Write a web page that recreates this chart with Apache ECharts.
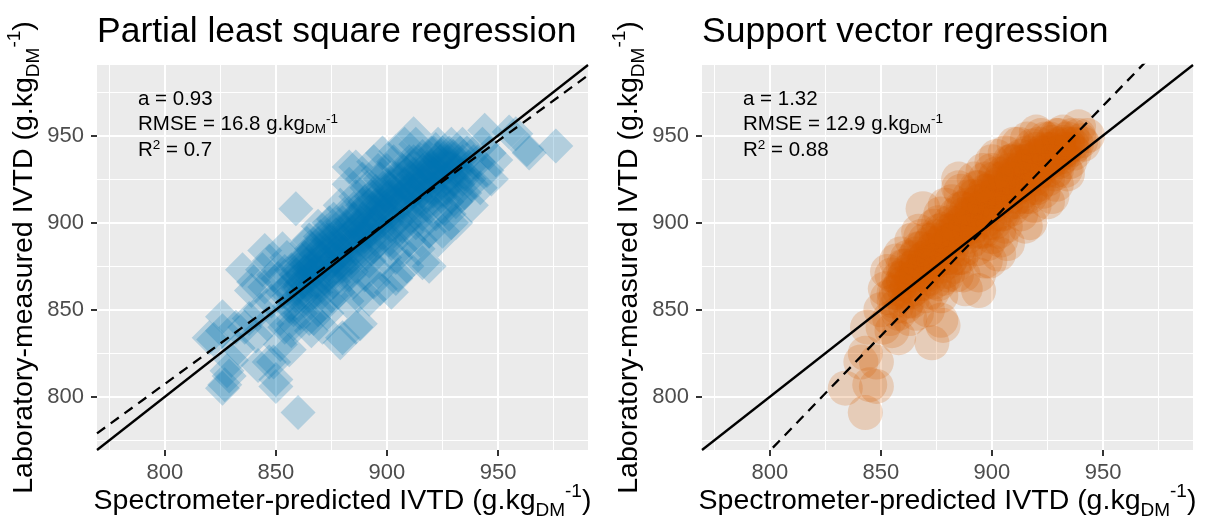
<!DOCTYPE html>
<html><head><meta charset="utf-8">
<script src="https://cdn.jsdelivr.net/npm/echarts@6/dist/echarts.min.js"></script>
<style>html,body{margin:0;padding:0;background:#fff}#c{width:1207px;height:518px}</style>
</head><body><div id="c"></div>
<script>
// ---------- data ----------
const panelTitles = ['Partial least square regression', 'Support vector regression'];
const tickValues = [800, 850, 900, 950];
const minorValues = [775, 825, 875, 925, 975];
const axisMin = 769.5, axisMax = 990.5;
const xTitle = 'Spectrometer-predicted IVTD (g.kg{sub|DM}{sup|-1})';
const yTitle = 'Laboratory-measured IVTD (g.kg{sub|DM}{sup|-1})';
const plsStats = ['a = 0.93', 'RMSE = 16.8 g.kg{sub|DM}{sup|-1}', 'R{sup|2} = 0.7'];
const svrStats = ['a = 1.32', 'RMSE = 12.9 g.kg{sub|DM}{sup|-1}', 'R{sup|2} = 0.88'];
const plsFit = [0.93, 63.4];   // slope, intercept
const svrFit = [1.32, -287];   // slope, intercept
// [predicted, measured]
const plsPoints = [
[820,834],[822,833],[826,846],[826,838],[827,807],[828,815],[830,821],[826,805],[829,812],[832,840],[835,873],[836,840],[833,828],
[839,861],[841,835],[842,818],[845,863],[845,884],[847,820],[849,820],[850,806],[850,810],[838,845],[843,850],[846,842],[848,855],[840,866],[844,873],[849,870],[847,878],
[852,845],[853,860],[854,872],[855,880],[856,827],[857,838],[858,850],[859,908],[860,791],[851,868],[853,885],[855,862],[857,873],[858,842],[859,858],[856,852],[852,830],[854,840],
[861,865],[862,878],[863,855],[864,888],[865,845],[866,870],[867,860],[868,882],[869,850],[870,875],[861,848],[863,872],[865,890],[866,838],[868,866],[870,892],[862,858],[864,876],[867,845],[869,898],[871,840],
[871,880],[872,868],[873,895],[874,855],[875,885],[876,902],[877,872],[878,860],[879,831],[880,890],[872,878],[874,900],[876,866],[878,884],[879,910],[873,848],[875,858],[877,893],[880,878],[880,834],
[881,905],[882,875],[883,922],[884,888],[885,866],[886,932],[887,898],[888,842],[889,880],[890,912],[881,890],[883,870],[884,900],[886,915],[887,858],[888,890],[889,925],[882,855],[885,908],[890,885],[890,870],
[891,920],[892,900],[893,885],[894,935],[895,910],[896,872],[897,925],[898,895],[899,880],[900,915],[891,895],[893,905],[894,866],[896,930],[897,890],[898,940],[899,905],[892,878],[895,890],[900,900],[900,930],
[901,920],[902,860],[903,895],[904,941],[905,910],[906,885],[907,930],[908,900],[909,918],[910,890],[901,905],[903,935],[904,880],[906,925],[907,898],[908,945],[909,875],[902,912],[905,870],[910,930],[910,908],
[911,920],[912,951],[913,900],[914,935],[915,890],[916,877],[917,925],[918,910],[919,875],[920,940],[911,905],[913,945],[914,885],[916,918],[917,900],[918,932],[919,895],[912,928],[915,912],[920,920],
[921,930],[922,905],[923,945],[924,915],[925,895],[926,935],[927,920],[928,905],[929,945],[930,925],[921,918],[923,890],[925,940],[927,912],[929,900],[924,928],[926,908],
[931,900],[932,930],[933,915],[935,917],[936,940],[937,925],[938,922],[939,935],[934,945],[931,912],[938,910],
[941,935],[943,945],[944,953],[945,930],[946,940],[949,936],[947,925],[942,920],
[955,952],[958,951],[963,942],[964,940],[976,944],
[866,885],[860,873],[883,932],[886,840],[892,856],[897,862],[904,868],
[856,858],[858,866],[860,862],[862,870],[864,864],[866,875],[868,872],[870,866],[872,884],[874,876],[876,888],[878,878],[880,884],[882,894],[884,880],[886,896],[888,900],[890,892],[892,910],[894,900],
[896,915],[898,905],[900,922],[902,898],[904,915],[906,910],[908,922],[910,915],[912,935],[914,920],[916,930],[918,925],[920,932],[922,925],[924,938],[926,925],[928,932],[930,938],[932,922],[934,935],
[859,870],[863,880],[867,885],[871,860],[875,872],[879,895],[883,885],[887,905],[891,882],[895,900],[899,915],[903,905],[907,912],[911,925],[915,920],[919,930],[923,922],[927,935],[931,930],[935,928],
[861,875],[865,858],[869,888],[873,875],[877,880],[881,870],[885,895],[889,910],[893,895],[897,908],[901,890],[905,925],[909,900],[913,915],[917,910],[921,940],[925,918],[929,915],[933,940],[937,932],
[868,878],[874,890],[880,900],[886,885],[892,890],[898,920],[904,900],[910,920],[916,905],[922,935],
[862,866],[865,872],[868,860],[871,885],[874,870],[877,888],[880,875],[883,898],[886,890],[889,902],[892,895],[895,918],[898,910],[901,915],[904,925],[907,918],[910,935],[913,928],[916,938],[919,920],[922,942],[925,930],[928,940],[931,935],[934,925],
[864,880],[867,875],[870,870],[873,890],[876,878],[879,885],[882,880],[885,902],[888,895],[891,910],[894,905],[897,900],[900,908],[903,918],[906,915],[909,928],[912,918],[915,935],[918,915],[921,928],[924,935],[927,925],[930,932],
[858,855],[866,865],[875,895],[884,872],[893,915],[902,888],[911,912],[920,925]
];
const svrPoints = [
[869,908],[843,791],[834,805],[845,807],[848,820],[841,820],[843,825],[844,840],[848,806],[853,857],[873,831],[877,844],[858,834],[878,841],[894,861],[899,878],[940,947],[939,955],[920,952],[885,920],[900,930],
[850,850],[852,862],[854,845],[855,870],[856,855],[857,878],[858,848],[859,865],[851,840],[853,872],[855,838],[857,860],[859,882],
[860,868],[861,852],[862,880],[863,860],[864,890],[865,872],[866,848],[867,885],[868,865],[869,876],[870,858],[861,875],[863,845],[865,862],[867,895],[869,870],[862,855],[866,882],[868,892],[870,880],
[871,870],[872,888],[873,860],[874,898],[875,878],[876,865],[877,905],[878,885],[879,872],[880,895],[871,850],[873,880],[875,892],[877,858],[879,910],[872,875],[874,866],[876,900],[878,868],[880,880],
[881,890],[882,912],[883,875],[884,900],[885,885],[886,918],[887,870],[888,905],[889,892],[890,915],[881,878],[883,895],[885,925],[886,880],[887,908],[888,862],[889,898],[882,886],[884,870],[890,900],
[891,905],[892,925],[893,885],[894,912],[895,895],[896,930],[897,878],[898,918],[899,900],[900,935],[891,890],[893,920],[894,870],[896,905],[897,925],[898,888],[899,912],[892,898],[895,915],[900,892],
[901,910],[902,938],[903,895],[904,925],[905,905],[906,940],[907,888],[908,930],[909,912],[910,945],[901,925],[903,882],[905,918],[906,898],[908,915],[909,935],[902,905],[904,890],[907,920],[910,925],
[911,920],[912,945],[913,905],[914,935],[915,915],[916,948],[917,900],[918,938],[919,925],[920,942],[911,935],[913,925],[915,898],[917,930],[919,910],[912,912],[914,922],[916,932],[918,920],[920,928],
[921,935],[922,950],[923,918],[924,940],[925,925],[926,948],[927,915],[928,938],[929,930],[930,945],[921,922],[923,935],[925,912],[927,942],[929,922],[930,935],
[931,940],[932,952],[933,930],[934,945],[935,935],[936,950],[937,940],[938,945],[939,950],[941,945],[943,950],[932,938],[934,928],[936,942],
[856,860],[858,868],[860,865],[862,872],[864,868],[866,876],[868,872],[870,880],[872,878],[874,886],[876,882],[878,890],[880,887],[882,896],[884,892],[886,900],[888,896],[890,905],[892,902],[894,908],
[896,905],[898,914],[900,910],[902,918],[904,914],[906,922],[908,918],[910,928],[912,922],[914,932],[916,926],[918,936],[920,932],[922,940],[924,934],[926,942],[928,936],[930,944],[932,940],[934,948],
[857,852],[861,860],[865,880],[869,865],[873,890],[877,875],[881,900],[885,880],[889,910],[893,895],[897,918],[901,900],[905,928],[909,908],[913,938],[917,915],[921,945],[925,930],[929,950],[933,942],
[860,875],[864,855],[868,885],[872,868],[876,895],[880,870],[884,905],[888,885],[892,915],[896,895],[900,920],[904,905],[908,935],[912,915],[916,940],[920,920],[924,948],[928,928],[932,946],[936,945],
[858,862],[861,870],[864,874],[867,878],[870,875],[873,884],[876,888],[879,892],[882,890],[885,898],[888,902],[891,908],[894,912],[897,910],[900,918],[903,922],[906,926],[909,925],[912,930],[915,935],[918,930],[921,938],[924,942],[927,946],[930,940],
[862,864],[866,870],[870,890],[874,878],[878,896],[882,880],[886,908],[890,895],[894,920],[898,902],[902,928],[906,910],[910,936],[914,918],[918,944],[922,930],[926,935],[930,950]
];

// ---------- chart ----------
const F = '"Liberation Sans", Arial, sans-serif';
const gridBoxes = [{left: 97, top: 65, width: 491, height: 385}, {left: 702, top: 65, width: 491, height: 385}];
const subsup = (fs, color) => ({
  sub: {fontSize: fs, fontFamily: F, color: color, verticalAlign: 'bottom', lineHeight: fs},
  sup: {fontSize: fs, fontFamily: F, color: color, verticalAlign: 'top', lineHeight: fs}
});

function xAxis(gi) {
  return {
    type: 'value', gridIndex: gi, min: axisMin, max: axisMax,
    name: xTitle, nameLocation: 'middle', nameGap: 32, nameMoveOverlap: false,
    nameTextStyle: {fontFamily: F, fontSize: 28.5, color: '#000', lineHeight: 38, rich: subsup(19, '#000')},
    axisLine: {show: false},
    axisTick: {show: true, length: 6, lineStyle: {color: '#333', width: 2}, customValues: tickValues},
    axisLabel: {customValues: tickValues, margin: 12, fontFamily: F, fontSize: 22, color: '#4d4d4d'},
    splitLine: {show: false}
  };
}
function yAxis(gi) {
  return {
    type: 'value', gridIndex: gi, min: axisMin, max: axisMax,
    name: yTitle, nameLocation: 'middle', nameGap: 54, nameMoveOverlap: false,
    nameTextStyle: {fontFamily: F, fontSize: 28.5, color: '#000', lineHeight: 38, rich: subsup(19, '#000')},
    axisLine: {show: false},
    axisTick: {show: true, length: 6, lineStyle: {color: '#333', width: 2}, customValues: tickValues},
    axisLabel: {customValues: tickValues, margin: 13, fontFamily: F, fontSize: 22, color: '#4d4d4d'},
    splitLine: {show: false}
  };
}
function gridSeries(gi) {
  const d = [];
  minorValues.forEach(v => { d.push({xAxis: v, lineStyle: {width: 1}}); d.push({yAxis: v, lineStyle: {width: 1}}); });
  tickValues.forEach(v => { d.push({xAxis: v, lineStyle: {width: 2}}); d.push({yAxis: v, lineStyle: {width: 2}}); });
  return {
    type: 'line', xAxisIndex: gi, yAxisIndex: gi, data: [], silent: true, z: 1,
    markLine: {silent: true, z: 1, zlevel: 0, symbol: ['none', 'none'], label: {show: false}, animation: false,
      lineStyle: {color: '#ffffff', type: 'solid'}, emphasis: {disabled: true}, data: d}
  };
}
function fitLine(gi, fit, dashed) {
  const pts = fit ? [[axisMin, fit[0] * axisMin + fit[1]], [axisMax, fit[0] * axisMax + fit[1]]]
                  : [[axisMin, axisMin], [axisMax, axisMax]];
  return {
    type: 'line', xAxisIndex: gi, yAxisIndex: gi, data: pts, symbol: 'none', silent: true, z: 5, clip: true,
    lineStyle: {color: '#000', width: 2.3, type: dashed ? [10, 7] : 'solid'}
  };
}
function statTexts(gi, lines) {
  const tops = [87, 112, 138];
  return lines.map((t, i) => ({
    type: 'text', left: gridBoxes[gi].left + 41, top: tops[i], z: 10,
    style: {text: t, fontFamily: F, fontSize: 20.5, fill: '#000', lineHeight: 24,
      rich: {sub: {fontSize: 13.5, fontFamily: F, fill: '#000', verticalAlign: 'bottom', lineHeight: 13},
             sup: {fontSize: 13.5, fontFamily: F, fill: '#000', verticalAlign: 'top', lineHeight: 13}}}
  }));
}

const chart = echarts.init(document.getElementById('c'), null, {renderer: 'canvas'});
chart.setOption({
  animation: false,
  backgroundColor: '#ffffff',
  title: panelTitles.map((t, i) => ({
    text: t, left: gridBoxes[i].left, top: 14, padding: 0,
    textStyle: {fontFamily: F, fontSize: 35.5, fontWeight: 'normal', color: '#000'}
  })),
  grid: gridBoxes.map(g => Object.assign({show: true, backgroundColor: '#EBEBEB', borderWidth: 0, containLabel: false, outerBoundsMode: 'none'}, g)),
  xAxis: [xAxis(0), xAxis(1)],
  yAxis: [yAxis(0), yAxis(1)],
  series: [
    gridSeries(0), gridSeries(1),
    {type: 'scatter', xAxisIndex: 0, yAxisIndex: 0, data: plsPoints, symbol: 'diamond', symbolSize: 35, z: 2,
      itemStyle: {color: 'rgba(0,114,178,0.3)'}, silent: true},
    {type: 'scatter', xAxisIndex: 1, yAxisIndex: 1, data: svrPoints, symbol: 'circle', symbolSize: 35, z: 2,
      itemStyle: {color: 'rgba(213,94,0,0.27)'}, silent: true},
    fitLine(0, null, false), fitLine(0, plsFit, true),
    fitLine(1, null, false), fitLine(1, svrFit, true)
  ],
  graphic: [...statTexts(0, plsStats), ...statTexts(1, svrStats)]
});
</script></body></html>
